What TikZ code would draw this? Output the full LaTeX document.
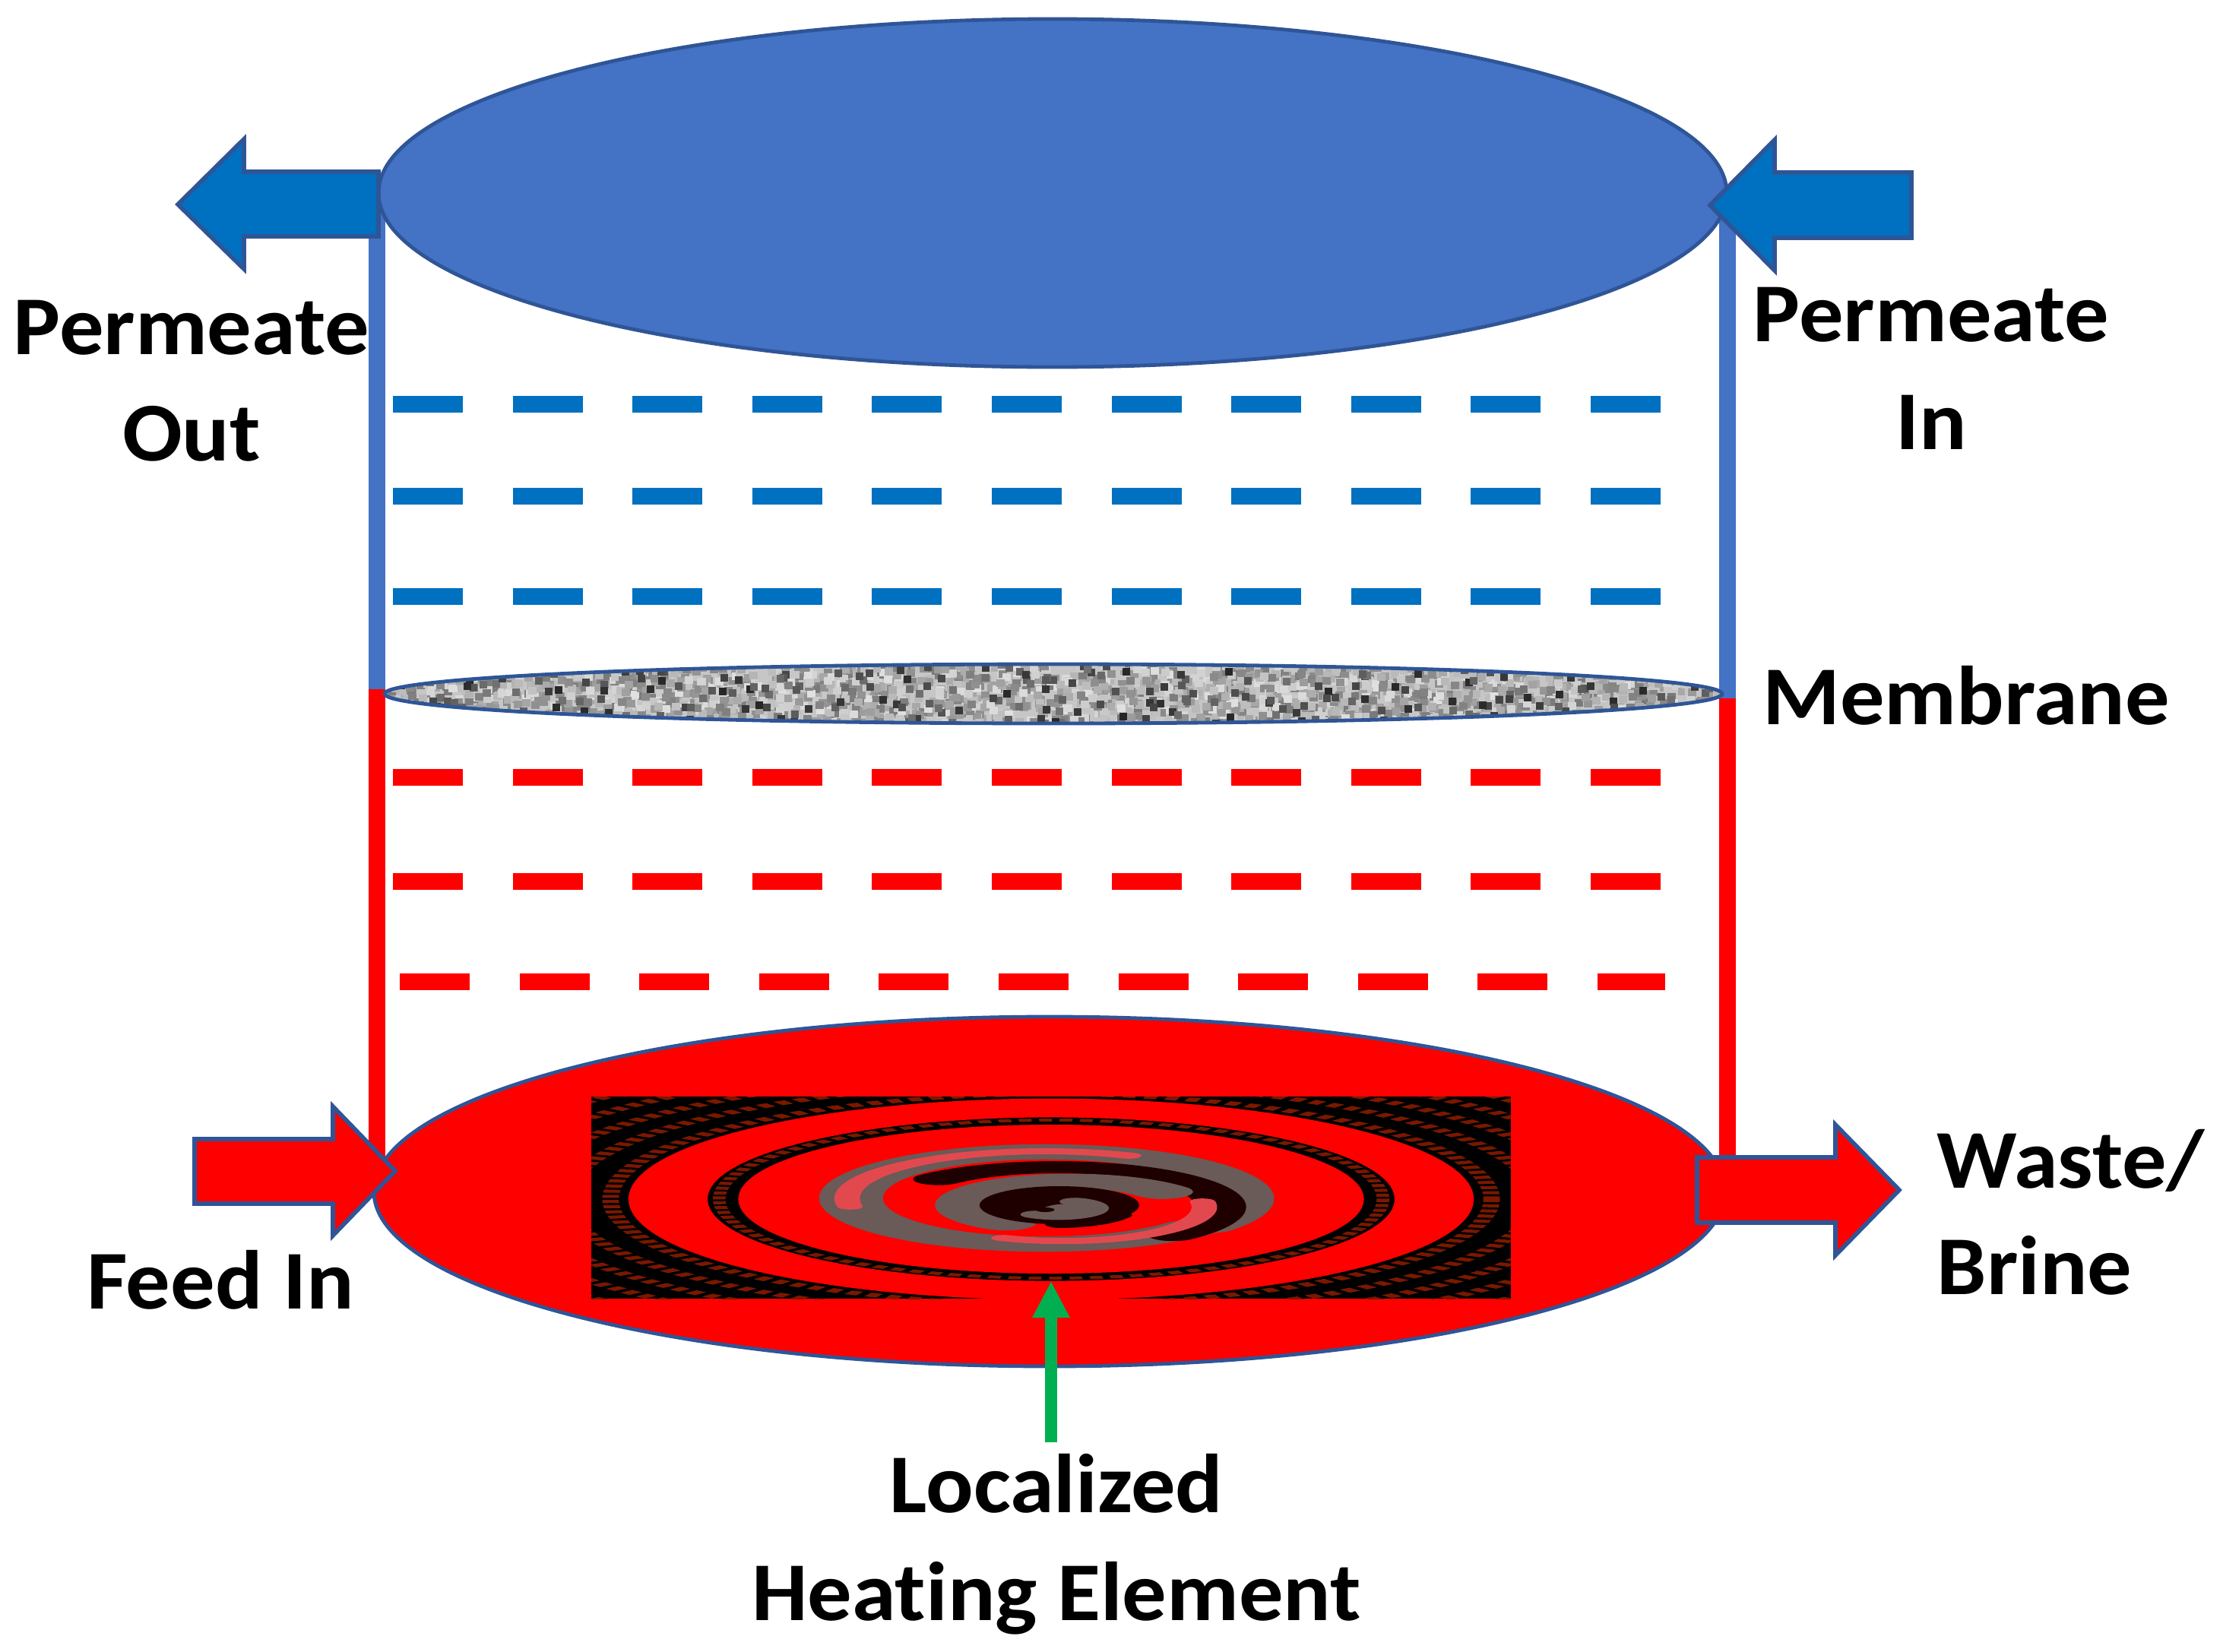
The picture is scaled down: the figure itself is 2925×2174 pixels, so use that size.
\documentclass[tikz,border=0pt]{standalone}
\usepackage{fontspec}
\setmainfont[FakeStretch=1.06,Ligatures=CommonOff]{Carlito}
\usetikzlibrary{arrows.meta}
\definecolor{edgeblue}{HTML}{2F5597}
\definecolor{topblue}{HTML}{4472C4}
\definecolor{arrowblue}{HTML}{0070C0}
\definecolor{dashblue}{HTML}{0070C0}
\definecolor{swirlgrey}{HTML}{6A5A58}
\definecolor{swirlpink}{HTML}{E2494F}
\definecolor{swirldark}{HTML}{7A1800}
\definecolor{swirlblack}{HTML}{1E0000}
\definecolor{arrowgreen}{HTML}{00B050}
\tikzset{
  x=0.25pt,y=-0.25pt,
  lbl/.style={font=\fontsize{27.5}{27.5}\selectfont\bfseries,anchor=base,inner sep=0pt},
  lblleft/.style={lbl,anchor=base west},
  vessel/.style={draw=edgeblue,line width=1.2pt},
  blockarrow/.style={draw=edgeblue,line width=1.4pt,line join=miter},
  wall/.style={line width=5.5pt,line cap=butt},
  flow/.style={line width=5.5pt,dash pattern=on 23pt off 16.4pt},
}
\newcommand{\spir}[7]{% colour, width(px), a0, a1, r0, r1, offset
  \draw[#1,line width=#2*0.25pt,line cap=round]
    plot[smooth,domain=#3:#4,samples=60,shift={(#7)}]
    ({(#5+(#6-#5)*(\x-#3)/(#4-#3))*cos(\x)},{(#5+(#6-#5)*(\x-#3)/(#4-#3))*sin(\x)});
}
\begin{document}
\begin{tikzpicture}
\useasboundingbox (0,0) rectangle (2925,2174);
% walls
\coordinate (tl) at (496,254); \coordinate (ml) at (496,907); \coordinate (bl) at (496,1550);
\coordinate (tr) at (2273,254); \coordinate (mr) at (2273,919); \coordinate (br) at (2273,1550);
\draw[wall,topblue] (tl) -- (ml);
\draw[wall,red] (ml) -- (bl);
\draw[wall,topblue] (tr) -- (mr);
\draw[wall,red] (mr) -- (br);
% dashes
\foreach \yy in {532,653,785}{
  \coordinate (ba) at (517,\yy); \coordinate (bb) at (2186,\yy);
  \draw[flow,dashblue] (ba) -- (bb);}
\foreach \yy/\xs/\xe in {1023/517/2186,1160/517/2186,1292/526/2191}{
  \coordinate (ra) at (\xs,\yy); \coordinate (rb) at (\xe,\yy);
  \draw[flow,red] (ra) -- (rb);}
% top ellipse
\draw[vessel,fill=topblue] (1385,254) ellipse [x radius=887,y radius=229];
% membrane
\begin{scope}
\clip (1386,913) ellipse [x radius=880,y radius=39];
\fill[gray!45] (500,870) rectangle (2290,960);
\pgfmathsetseed{42}
\foreach \i in {1,...,2600}{
  \pgfmathsetmacro{\rx}{random(506,2272)}
  \pgfmathsetmacro{\ry}{random(872,950)}
  \pgfmathsetmacro{\rg}{random(12,52)}
  \fill[black!\rg!white] (\rx,\ry) rectangle ++(11,10);
}
\foreach \i in {1,...,260}{
  \pgfmathsetmacro{\rx}{random(506,2272)}
  \pgfmathsetmacro{\ry}{random(872,950)}
  \pgfmathsetmacro{\rg}{random(55,85)}
  \fill[black!\rg!white] (\rx,\ry) rectangle ++(10,10);
}
\end{scope}
\draw[vessel] (1386,913) ellipse [x radius=880,y radius=39];
% bottom ellipse
\draw[vessel,fill=red] (1381,1568) ellipse [x radius=889,y radius=230];
% swirl
\begin{scope}
\clip (778,1443) rectangle (1988,1709);
\fill[black] (778,1443) rectangle (1988,1709);
\begin{scope}[transform canvas={shift={(1383,1578)},xscale=4.2}]
  \foreach \rr in {138,152,166,180,194,208,222,236,250,264,278,292,306}{
    \draw[swirldark,line width=1.3pt,dash pattern=on 1pt off 0.7pt] (0,0) circle [radius=\rr];}
  \draw[red,line width=6.2pt] (0,0) circle [radius=120];
  \draw[swirldark,line width=1pt,dash pattern=on 1pt off .6pt] (0,0) circle [radius=104];
  \fill[red] (0,0) circle [radius=98];
\end{scope}
\begin{scope}[transform canvas={shift={(1396,1589)},xscale=4.2}]
  % big grey ring
  \spir{swirlgrey}{20}{40}{395}{60}{62}{-5,-12}
  % dark arc between the rings
  \spir{swirlblack}{16}{225}{405}{50}{54}{-3,-2}
  % pink highlights
  \spir{swirlpink}{8}{170}{295}{62}{62}{-5,-12}
  \spir{swirlpink}{8}{-10}{114}{45}{44}{0,0}
  % inner grey arm
  \spir{swirlgrey}{19}{327}{130}{38}{27}{0,0}
  % black core with its grey hook
  \fill[swirlblack] (-0.5,-3) circle [radius=25];
  \spir{swirlblack}{10}{30}{90}{20}{22}{0,0}
  \spir{swirlgrey}{10}{-60}{130}{9}{12}{0,0}
  \fill[swirlgrey] (3,4) circle [radius=9];
  \fill[swirlblack] (-5,3) circle [radius=3];
\end{scope}
\end{scope}
% block arrows
\draw[blockarrow,fill=arrowblue] (498,226) -- (321,226) -- (321,183) -- (234,269) -- (321,354) -- (321,311) -- (498,311) -- cycle;
\draw[blockarrow,fill=arrowblue] (2515,227) -- (2335,227) -- (2335,184) -- (2250,270) -- (2335,356) -- (2335,313) -- (2515,313) -- cycle;
\draw[blockarrow,fill=red] (256,1499) -- (438,1499) -- (438,1456) -- (520,1541) -- (438,1626) -- (438,1584) -- (256,1584) -- cycle;
\draw[blockarrow,fill=red] (2233,1523) -- (2415,1523) -- (2415,1480) -- (2499,1566) -- (2415,1652) -- (2415,1609) -- (2233,1609) -- cycle;
% green arrow
\coordinate (gs) at (1383,1898); \coordinate (ge) at (1383,1686);
\draw[arrowgreen,line width=4pt,-{Triangle[length=12pt,width=11.5pt]}] (gs) -- (ge);
% labels
\node[lbl] (pout1) at (252,466) {Permeate};
\node[lbl] (pout2) at (252,606) {Out};
\node[lbl] (pin1) at (2541,449) {Permeate};
\node[lbl] (pin2) at (2541,591) {In};
\node[lbl] (memb) at (2587,953) {Membrane};
\node[lbl] (feed) at (290,1722) {Feed In};
\node[lblleft] (waste) at (2548,1563) {Waste/};
\node[lblleft] (brine) at (2548,1703) {Brine};
\node[lbl] (loc) at (1390,1990) {Localized};
\node[lbl] (heat) at (1390,2132) {Heating Element};
\end{tikzpicture}
\end{document}
